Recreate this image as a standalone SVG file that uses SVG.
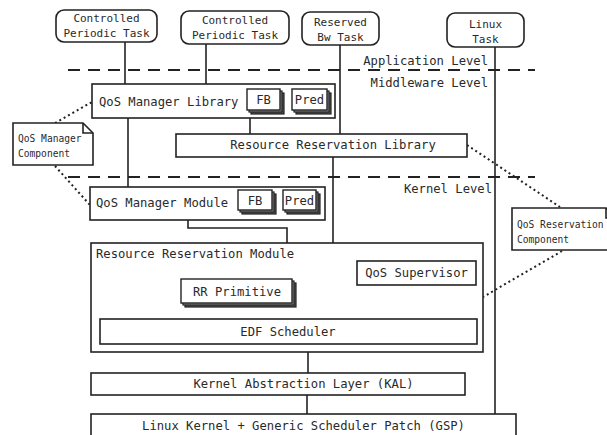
<svg xmlns="http://www.w3.org/2000/svg" width="607" height="435" viewBox="0 0 607 435">
<style>
text{font-family:"DejaVu Sans Mono","Liberation Mono",monospace;fill:#2a2a2a}
.t{font-size:11px;text-anchor:middle}
.b{font-size:12.2px}
.c{text-anchor:middle}
.n{font-size:9.6px}
.task{fill:#fff;stroke:#222;stroke-width:1.6}
.box{fill:#fff;stroke:#222;stroke-width:1.6}
.ln{fill:none;stroke:#222;stroke-width:1.6}
.dash{fill:none;stroke:#222;stroke-width:2;stroke-dasharray:12 8}
.dot{fill:none;stroke:#222;stroke-width:2;stroke-dasharray:2 3}
.s1{fill:#555;stroke:#222;stroke-width:1.2}
.s2{fill:#999;stroke:#222;stroke-width:1.2}
.fr{fill:#fff;stroke:#222;stroke-width:1.4}
</style>
<rect width="607" height="435" fill="#fff"/>
<g id="levels">
<path class="dash" d="M68,70 H535"/>
<path class="dash" d="M68,177 H535"/>
<text class="b" x="488" y="65" text-anchor="end">Application Level</text>
<text class="b" x="488" y="87" text-anchor="end">Middleware Level</text>
<text class="b" x="492" y="193" text-anchor="end">Kernel Level</text>
</g>
<g id="connectors">
<path class="ln" d="M125,42 V84"/>
<path class="ln" d="M206,44 V84"/>
<path class="ln" d="M340,45 V134"/>
<path class="ln" d="M495,47 V414"/>
<path class="ln" d="M128,118 V187"/>
<path class="ln" d="M250,118 V134"/>
<path class="ln" d="M333,157 V243"/>
<path class="ln" d="M188,220 V228 H287 V243"/>
<path class="ln" d="M308,352 V373"/>
<path class="ln" d="M307,395 V414"/>
<path class="dot" d="M55,123 L92,102"/>
<path class="dot" d="M55,166 L90,205"/>
<path class="dot" d="M467,145 L560,207"/>
<path class="dot" d="M562,251 L483,297"/>
</g>
<g id="task1">
<rect class="task" x="56" y="10" width="101" height="32" rx="8"/>
<text class="t" x="106.5" y="22">Controlled</text>
<text class="t" x="106.5" y="37">Periodic Task</text>
</g>
<g id="task2">
<rect class="task" x="181" y="11" width="108" height="33" rx="8"/>
<text class="t" x="235" y="24">Controlled</text>
<text class="t" x="235" y="39">Periodic Task</text>
</g>
<g id="task3">
<rect class="task" x="302" y="12" width="77" height="33" rx="8"/>
<text class="t" x="340.5" y="26">Reserved</text>
<text class="t" x="340.5" y="41">Bw Task</text>
</g>
<g id="task4">
<rect class="task" x="447" y="13" width="77" height="34" rx="8"/>
<text class="t" x="485.5" y="28">Linux</text>
<text class="t" x="485.5" y="43">Task</text>
</g>
<g id="qosLib">
<rect class="box" x="92" y="84" width="243" height="34"/>
<text class="b" x="99" y="106">QoS Manager Library</text>
<rect class="s1" x="251" y="93" width="33" height="21"/>
<rect class="s2" x="249" y="91" width="33" height="21"/>
<rect class="fr" x="247" y="89" width="33" height="21"/>
<text class="b c" x="263.5" y="104">FB</text>
<rect class="s1" x="296" y="93" width="35" height="21"/>
<rect class="s2" x="294" y="91" width="35" height="21"/>
<rect class="fr" x="292" y="89" width="35" height="21"/>
<text class="b c" x="309.5" y="104">Pred</text>
</g>
<g id="rrLib">
<rect class="box" x="176" y="134" width="291" height="23"/>
<text class="b c" x="333" y="149">Resource Reservation Library</text>
</g>
<g id="qosMod">
<rect class="box" x="90" y="187" width="235" height="33"/>
<text class="b" x="96" y="207">QoS Manager Module</text>
<rect class="s1" x="242" y="194" width="34" height="20"/>
<rect class="s2" x="240" y="192" width="34" height="20"/>
<rect class="fr" x="238" y="190" width="34" height="20"/>
<text class="b c" x="255" y="205">FB</text>
<rect class="s1" x="287" y="194" width="33" height="20"/>
<rect class="s2" x="285" y="192" width="33" height="20"/>
<rect class="fr" x="283" y="190" width="33" height="20"/>
<text class="b c" x="299.5" y="205">Pred</text>
</g>
<g id="rrMod">
<rect class="box" x="91" y="243" width="392" height="109"/>
<text class="b" x="96" y="258">Resource Reservation Module</text>
</g>
<g id="qosSup">
<rect class="box" x="357" y="261" width="119" height="24"/>
<text class="b c" x="416.5" y="277">QoS Supervisor</text>
</g>
<g id="rrPrim">
<rect class="s1" x="185" y="283" width="111" height="24"/>
<rect class="s2" x="183" y="281" width="111" height="24"/>
<rect class="fr" x="181" y="279" width="111" height="24"/>
<text class="b c" x="237" y="296">RR Primitive</text>
</g>
<g id="edf">
<rect class="box" x="100" y="319" width="377" height="25"/>
<text class="b c" x="288" y="336">EDF Scheduler</text>
</g>
<g id="kal">
<rect class="box" x="91" y="373" width="374" height="22"/>
<text class="b c" x="303.5" y="388">Kernel Abstraction Layer (KAL)</text>
</g>
<g id="gsp">
<rect class="box" x="91" y="414" width="425" height="30"/>
<text class="b c" x="303.5" y="430">Linux Kernel + Generic Scheduler Patch (GSP)</text>
</g>
<g id="noteQosMgr">
<path class="box" d="M13,123 H83 L93,133 V165 H13 Z"/>
<path class="ln" d="M83,123 V133 H93" stroke-width="1.2"/>
<text class="n" x="18" y="142">QoS Manager</text>
<text class="n" x="18" y="157">Component</text>
</g>
<g id="noteQosRes">
<path class="box" d="M512,208 H606 L616,218 V250 H512 Z"/>
<path class="ln" d="M606,208 V218 H616" stroke-width="1.2"/>
<text class="n" x="517" y="228">QoS Reservation</text>
<text class="n" x="517" y="243">Component</text>
</g>
</svg>
